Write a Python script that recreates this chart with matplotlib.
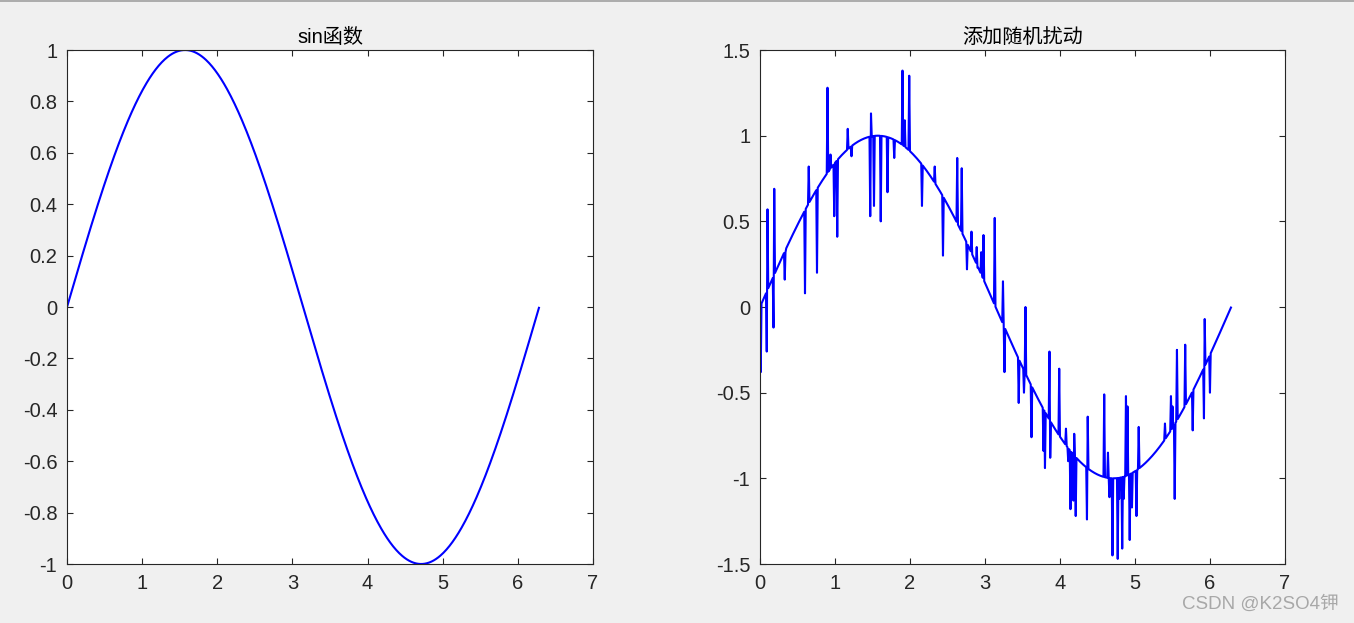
import numpy as np
import matplotlib
matplotlib.use('Agg')
import matplotlib.pyplot as plt
from matplotlib.lines import Line2D
from matplotlib.ticker import FuncFormatter

plt.rcParams['font.family'] = ['Liberation Sans', 'Noto Sans CJK SC', 'DejaVu Sans']
plt.rcParams['axes.unicode_minus'] = False

# sample grid, step 0.01 like the original script
step = 0.01
x_max = 2 * np.pi

# random disturbance: sample position and disturbed value
spike_x = [0.01, 0.09, 0.10, 0.18, 0.19, 0.33, 0.34, 0.60, 0.65, 0.76,
           0.90, 0.94, 0.99, 1.03, 1.17, 1.22, 1.47, 1.48, 1.52, 1.61,
           1.70, 1.79, 1.90, 1.93, 1.99, 2.16, 2.33, 2.44, 2.63, 2.69,
           2.76, 2.82, 2.89, 2.90, 2.95, 2.96, 2.98, 3.13, 3.24, 3.26,
           3.45, 3.52, 3.54, 3.62, 3.78, 3.80, 3.86, 3.87, 3.99, 4.08,
           4.11, 4.14, 4.18, 4.19, 4.21, 4.36, 4.37, 4.59, 4.64, 4.66,
           4.70, 4.77, 4.79, 4.83, 4.85, 4.88, 4.90, 4.93, 4.96, 5.02,
           5.05, 5.40, 5.48, 5.50, 5.53, 5.56, 5.67, 5.77, 5.92, 5.93,
           6.00]
spike_y = [-0.38, -0.26, 0.57, -0.12, 0.69, 0.16, 0.32, 0.08, 0.82, 0.20,
           1.28, 0.89, 0.53, 0.41, 1.04, 0.88, 0.53, 1.13, 0.59, 0.50,
           0.67, 0.87, 1.38, 1.09, 1.35, 0.59, 0.82, 0.30, 0.87, 0.81,
           0.22, 0.44, 0.35, 0.23, 0.32, 0.20, 0.42, 0.52, 0.15, -0.38,
           -0.56, -0.50, 0.00, -0.76, -0.84, -0.94, -0.26, -0.88, -0.36, -0.71,
           -0.90, -1.18, -1.13, -0.74, -1.22, -1.24, -0.64, -0.51, -0.85, -1.11,
           -1.45, -1.47, -1.12, -1.41, -1.12, -0.52, -0.58, -1.36, -1.17, -1.22,
           -0.70, -0.68, -0.52, -0.58, -1.12, -0.25, -0.22, -0.72, -0.65, -0.07,
           -0.50]

left_xticks = [0, 1, 2, 3, 4, 5, 6, 7]
left_yticks = [-1, -0.8, -0.6, -0.4, -0.2, 0, 0.2, 0.4, 0.6, 0.8, 1]
right_yticks = [-1.5, -1, -0.5, 0, 0.5, 1, 1.5]

x = np.arange(0, x_max, step)
y = np.sin(x)
y_noise = y.copy()
for sx, sy in zip(spike_x, spike_y):
    y_noise[int(round(sx / step))] = sy

fig = plt.figure(figsize=(13.54, 6.23), dpi=100, facecolor='#f0f0f0')
fig.add_artist(Line2D([0, 1], [0.998, 0.998], color='#a0a0a0', lw=1.2))

fmt = FuncFormatter(lambda v, p: ('%g' % round(v, 2)))
dark = '#262626'


def style(ax):
    ax.set_facecolor('white')
    ax.tick_params(direction='in', top=True, right=True, length=4,
                   width=0.8, labelsize=14.5, pad=7, colors=dark)
    ax.xaxis.set_major_formatter(fmt)
    ax.yaxis.set_major_formatter(fmt)
    for s in ax.spines.values():
        s.set_linewidth(0.8)
        s.set_color(dark)


ax1 = fig.add_axes([0.0495, 0.0947, 0.3885, 0.825])
ax1.plot(x, y, color='#0000ff', lw=1.5)
ax1.set_xlim(0, 7)
ax1.set_ylim(-1, 1)
ax1.set_xticks(left_xticks)
ax1.set_yticks(left_yticks)
style(ax1)
ax1.set_title('sin函数', fontsize=14.5, pad=5, color='black')

ax2 = fig.add_axes([0.5613, 0.0947, 0.3877, 0.825])
ax2.plot(x, y_noise, color='#0000ff', lw=1.5)
ax2.set_xlim(0, 7)
ax2.set_ylim(-1.5, 1.5)
ax2.set_xticks(left_xticks)
ax2.set_yticks(right_yticks)
style(ax2)
ax2.set_title('添加随机扰动', fontsize=14.5, pad=5, color='black')

fig.text(0.989, 0.03, 'CSDN @K2SO4钾', ha='right', va='center',
         fontsize=13.5, color='#a8a8a8')

fig.savefig('out.png', dpi=100, facecolor=fig.get_facecolor())
